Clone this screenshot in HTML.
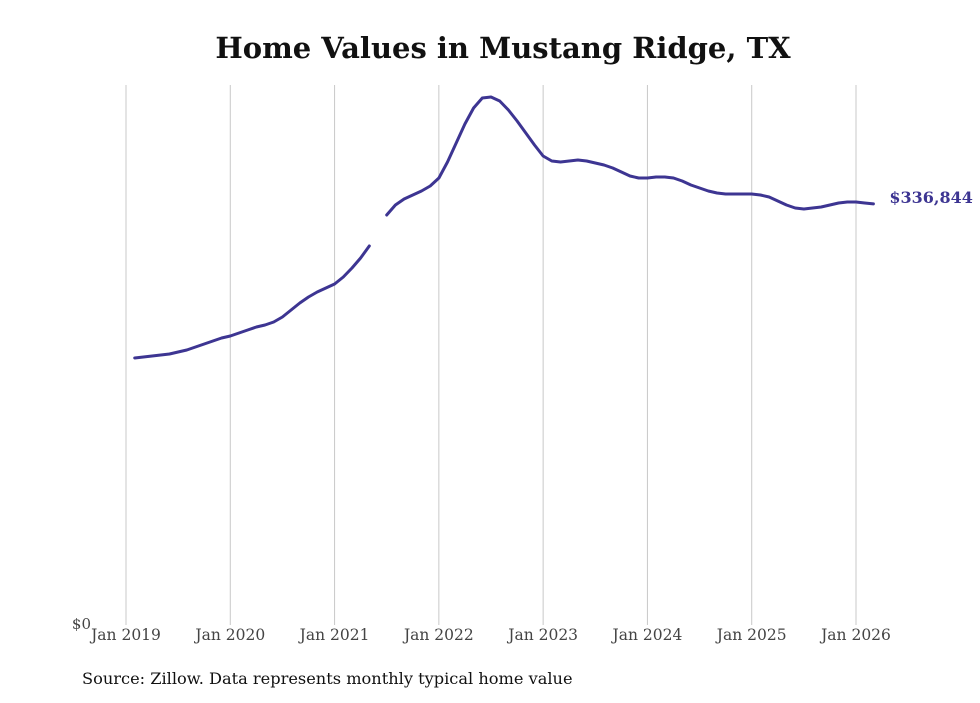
<!DOCTYPE html>
<html><head><meta charset="utf-8"><style>
body{margin:0;background:#fff;width:980px;height:699px;overflow:hidden;font-family:"DejaVu Serif",serif}
</style></head><body>
<svg width="980" height="699" id="chart" font-family="DejaVu Serif, serif">
<text x="503" y="58" text-anchor="middle" font-size="29" font-weight="bold" fill="#111">Home Values in Mustang Ridge, TX</text>
<text x="82" y="684" font-size="16.2" fill="#111">Source: Zillow. Data represents monthly typical home value</text>
<text x="91" y="629" text-anchor="end" font-size="15" fill="#444">$0</text>
<g id="grid"></g><g id="xt"></g><path id="line" fill="none" stroke="#3d3592" stroke-width="3" stroke-linejoin="round" stroke-linecap="round"/>
<text id="lastlbl" font-size="16" font-weight="bold" fill="#3d3592"></text>
</svg>
<script>
const years=["Jan 2019","Jan 2020","Jan 2021","Jan 2022","Jan 2023","Jan 2024","Jan 2025","Jan 2026"];
const startMonth=1; // Feb 2019 (months since Jan 2019)
const values=[213.6,214.4,215.2,216,216.8,218.4,220,222.4,224.8,227.2,229.6,
231.2,233.6,236,238.4,240,242.4,246.4,252,257.6,262.4,266.4,269.6,
272.8,278.4,285.6,293.6,303.2,null,328,336,340.8,344,347.2,351.2,
357.6,370.4,385.6,400.8,413.6,421.6,422.4,419.2,412,403.2,393.6,384,
375.2,371.2,370.4,371.2,372,371.2,369.6,368,365.6,362.4,359.2,357.6,
357.6,358.4,358.4,357.6,355.2,352,349.6,347.2,345.6,344.8,344.8,344.8,
344.8,344,342.4,339.2,336,333.6,332.8,333.6,334.4,336,337.6,338.4,
338.4,337.6,336.844];
const lastLabel="$336,844";
const X=m=>126+m*(730/84);
const Y=v=>625-v/0.8;
const ns="http://www.w3.org/2000/svg";
const grid=document.getElementById('grid'),xt=document.getElementById('xt');
years.forEach((t,i)=>{
 const l=document.createElementNS(ns,'line');
 l.setAttribute('x1',X(i*12));l.setAttribute('x2',X(i*12));l.setAttribute('y1',85);l.setAttribute('y2',625);
 l.setAttribute('stroke','#c8c8c8');l.setAttribute('stroke-width','1');
 
 
 grid.appendChild(l);
 const tx=document.createElementNS(ns,'text');
 tx.setAttribute('x',X(i*12));tx.setAttribute('y',640);tx.setAttribute('text-anchor','middle');
 tx.setAttribute('font-size','15.5');tx.setAttribute('fill','#444');tx.textContent=t;
 
 
 xt.appendChild(tx);
});
let d='',pen=false,lx=0,ly=0;
values.forEach((v,i)=>{
 if(v===null){pen=false;return;}
 lx=X(startMonth+i);ly=Y(v);
 d+=(pen?'L':'M')+lx.toFixed(1)+','+ly.toFixed(1);pen=true;
});
document.getElementById('line').setAttribute('d',d);
const lb=document.getElementById('lastlbl');
lb.setAttribute('x',lx+16);lb.setAttribute('y',ly-1);lb.textContent=lastLabel;
</script>
</body></html>
